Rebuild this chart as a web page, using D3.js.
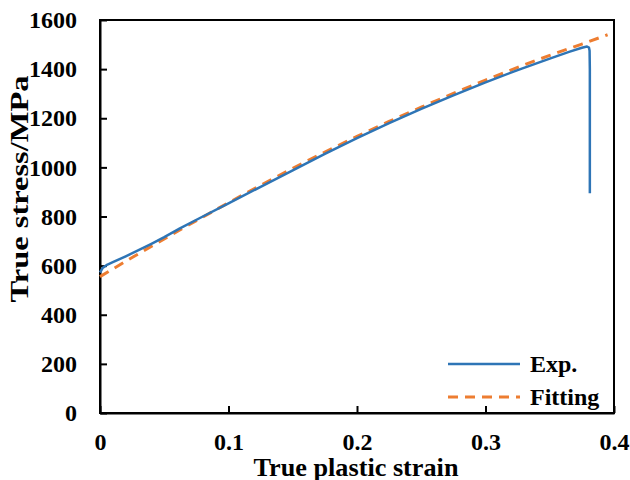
<!DOCTYPE html>
<html>
<head>
<meta charset="utf-8">
<script src="https://cdn.jsdelivr.net/npm/d3@7"></script>
<style>
  body { margin: 0; background: #fff; }
  svg text { font-family: "Liberation Serif", "Times New Roman", serif; font-weight: bold; fill: #000; }
</style>
</head>
<body>
<div id="chart"></div>
<script>
// experimental curve (true plastic strain, true stress MPa)
const expStrain = [0, 0.002, 0.005, 0.01, 0.02, 0.03, 0.04, 0.05, 0.0622, 0.08, 0.1, 0.125, 0.15, 0.175, 0.2, 0.225, 0.25, 0.275, 0.3, 0.325, 0.35, 0.365, 0.375, 0.379, 0.3805, 0.381, 0.3812, 0.3812];
const expStress = [572, 590, 602, 614, 638, 663, 689, 716, 752, 800, 853, 921, 988, 1055, 1119, 1180, 1238, 1293, 1346, 1396, 1443, 1470, 1487, 1492, 1488, 1475, 1400, 895];

// fitted curve
const fitStrain = [0, 0.025, 0.05, 0.075, 0.1, 0.125, 0.15, 0.175, 0.2, 0.225, 0.25, 0.275, 0.3, 0.325, 0.35, 0.375, 0.395];
const fitStress = [555, 633, 709, 783, 856, 927, 996, 1062, 1126, 1187, 1245, 1301, 1355, 1407, 1456, 1502, 1540];

const xTicks = [0, 0.1, 0.2, 0.3, 0.4];
const yTicks = [0, 200, 400, 600, 800, 1000, 1200, 1400, 1600];

const width = 630, height = 480;
const margin = {left: 100, top: 20, right: 16, bottom: 67};
const plotW = width - margin.left - margin.right;
const plotH = height - margin.top - margin.bottom;
const serif = '"Liberation Serif", "Times New Roman", serif';

const svg = d3.select("#chart").append("svg")
  .attr("width", width)
  .attr("height", height);

const x = d3.scaleLinear().domain([0, 0.4]).range([margin.left, margin.left + plotW]);
const y = d3.scaleLinear().domain([0, 1600]).range([margin.top + plotH, margin.top]);

// frame
svg.append("rect")
  .attr("x", x(0)).attr("y", y(1600))
  .attr("width", x(0.4) - x(0)).attr("height", y(0) - y(1600))
  .attr("fill", "none").attr("stroke", "#000").attr("stroke-width", 2);

// x axis - inward ticks
const xAxis = d3.axisBottom(x).tickValues(xTicks)
  .tickSizeInner(-7).tickSizeOuter(0).tickPadding(20)
  .tickFormat(d => d === 0 ? "0" : d3.format(".1f")(d));
const gx = svg.append("g")
  .attr("transform", `translate(0,${y(0)})`)
  .call(xAxis)
  .attr("font-family", serif).attr("font-size", 24).attr("font-weight", "bold");
gx.select(".domain").attr("stroke-width", 2);
gx.selectAll(".tick line").attr("stroke-width", 2);

// y axis - inward ticks
const yAxis = d3.axisLeft(y).tickValues(yTicks)
  .tickSizeInner(-7).tickSizeOuter(0).tickPadding(23)
  .tickFormat(d3.format("d"));
const gy = svg.append("g")
  .attr("transform", `translate(${x(0)},0)`)
  .call(yAxis)
  .attr("font-family", serif).attr("font-size", 24).attr("font-weight", "bold");
gy.select(".domain").attr("stroke-width", 2);
gy.selectAll(".tick line").attr("stroke-width", 2);

// axis titles
svg.append("text")
  .attr("x", 356)
  .attr("y", 476)
  .attr("text-anchor", "middle")
  .attr("font-size", 25)
  .attr("textLength", 205)
  .attr("lengthAdjust", "spacingAndGlyphs")
  .text("True plastic strain");

svg.append("text")
  .attr("transform", "translate(28,189) rotate(-90)")
  .attr("text-anchor", "middle")
  .attr("font-size", 26)
  .attr("textLength", 227)
  .attr("lengthAdjust", "spacingAndGlyphs")
  .text("True stress/MPa");

const line = d3.line().x(d => x(d[0])).y(d => y(d[1]));

svg.append("path")
  .datum(d3.zip(fitStrain, fitStress))
  .attr("fill", "none")
  .attr("stroke", "#ED7D31")
  .attr("stroke-width", 3)
  .attr("stroke-dasharray", "10,7")
  .attr("d", line.curve(d3.curveMonotoneX));

svg.append("path")
  .datum(d3.zip(expStrain, expStress))
  .attr("fill", "none")
  .attr("stroke", "#2E75B6")
  .attr("stroke-width", 2.5)
  .attr("stroke-linejoin", "round")
  .attr("d", d3.line().x(d => x(d[0])).y(d => y(d[1])));

// legend
const legend = svg.append("g");
legend.append("line")
  .attr("x1", 448).attr("x2", 520).attr("y1", 364).attr("y2", 364)
  .attr("stroke", "#2E75B6").attr("stroke-width", 2.5);
legend.append("text").attr("x", 530).attr("y", 372).attr("font-size", 24).text("Exp.");
legend.append("line")
  .attr("x1", 448).attr("x2", 520).attr("y1", 397).attr("y2", 397)
  .attr("stroke", "#ED7D31").attr("stroke-width", 3).attr("stroke-dasharray", "10,7");
legend.append("text").attr("x", 530).attr("y", 405).attr("font-size", 24).text("Fitting");
</script>
</body>
</html>
